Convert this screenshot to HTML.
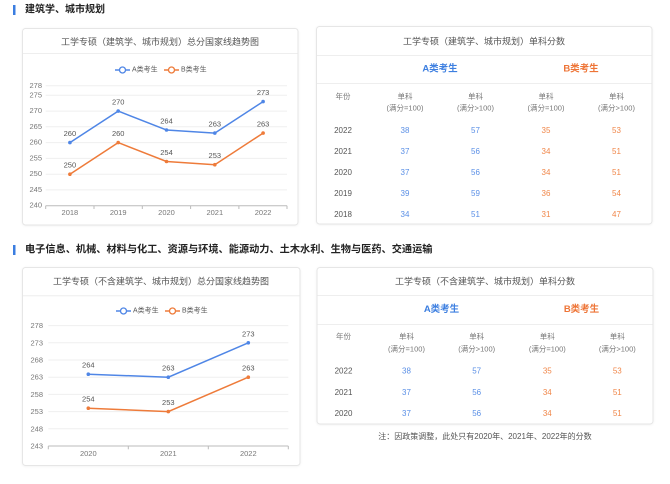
<!DOCTYPE html>
<html><head><meta charset="utf-8">
<style>
html,body{margin:0;padding:0;background:#fff;}
body{width:670px;height:484px;overflow:hidden;}
svg{display:block;font-family:"Liberation Sans","Noto Sans CJK SC",sans-serif;}
</style></head>
<body>
<svg width="670" height="484" viewBox="0 0 670 484" xmlns="http://www.w3.org/2000/svg">
<defs>
<filter id="sh" x="-5%" y="-5%" width="110%" height="110%"><feDropShadow dx="0" dy="0.5" stdDeviation="1" flood-color="#000" flood-opacity="0.06"/></filter>
</defs>
<rect width="670" height="484" fill="#fff"/>

<!-- Headings -->
<rect x="13" y="5" width="2.5" height="10" fill="#3b7de0"/>
<text x="25" y="10" font-size="10px" font-weight="bold" fill="#222" dominant-baseline="central">建筑学、城市规划</text>
<rect x="13" y="245" width="2.5" height="10" fill="#3b7de0"/>
<text x="25" y="250" font-size="10.2px" font-weight="bold" fill="#222" dominant-baseline="central">电子信息、机械、材料与化工、资源与环境、能源动力、土木水利、生物与医药、交通运输</text>

<!-- Cards -->
<rect x="22.5" y="28.5" width="275.5" height="196.5" rx="3" fill="#fff" stroke="#e6e6e6" filter="url(#sh)"/>
<rect x="316.5" y="26.5" width="335.5" height="197.5" rx="3" fill="#fff" stroke="#e6e6e6" filter="url(#sh)"/>
<rect x="22.5" y="267.5" width="277.5" height="198" rx="3" fill="#fff" stroke="#e6e6e6" filter="url(#sh)"/>
<rect x="317" y="267.5" width="336" height="156.5" rx="3" fill="#fff" stroke="#e6e6e6" filter="url(#sh)"/>

<!-- ========== Chart 1 ========== -->
<text x="160" y="42" font-size="9px" fill="#555" text-anchor="middle" dominant-baseline="central">工学专硕（建筑学、城市规划）总分国家线趋势图</text>
<line x1="23" y1="53.5" x2="297.5" y2="53.5" stroke="#eee"/>
<!-- legend -->
<line x1="115" y1="70" x2="130" y2="70" stroke="#4f86e6" stroke-width="1.5"/>
<circle cx="122.5" cy="70" r="3" fill="#fff" stroke="#4f86e6" stroke-width="1.3"/>
<text x="132" y="70" font-size="7px" fill="#555" dominant-baseline="central">A类考生</text>
<line x1="164" y1="70" x2="179" y2="70" stroke="#ee7b3a" stroke-width="1.5"/>
<circle cx="171.5" cy="70" r="3" fill="#fff" stroke="#ee7b3a" stroke-width="1.3"/>
<text x="181" y="70" font-size="7px" fill="#555" dominant-baseline="central">B类考生</text>
<!-- grid -->
<g stroke="#efefef" stroke-width="1">
<line x1="45.7" y1="85.8" x2="287" y2="85.8"/>
<line x1="45.7" y1="95.3" x2="287" y2="95.3"/>
<line x1="45.7" y1="111.1" x2="287" y2="111.1"/>
<line x1="45.7" y1="126.8" x2="287" y2="126.8"/>
<line x1="45.7" y1="142.6" x2="287" y2="142.6"/>
<line x1="45.7" y1="158.4" x2="287" y2="158.4"/>
<line x1="45.7" y1="174.2" x2="287" y2="174.2"/>
<line x1="45.7" y1="189.9" x2="287" y2="189.9"/>
</g>
<line x1="45.7" y1="205.7" x2="287" y2="205.7" stroke="#bbb"/>
<g stroke="#bbb">
<line x1="45.7" y1="205.7" x2="45.7" y2="209"/>
<line x1="94" y1="205.7" x2="94" y2="209"/>
<line x1="142.3" y1="205.7" x2="142.3" y2="209"/>
<line x1="190.6" y1="205.7" x2="190.6" y2="209"/>
<line x1="238.9" y1="205.7" x2="238.9" y2="209"/>
<line x1="287" y1="205.7" x2="287" y2="209"/>
</g>
<g font-size="7.5px" fill="#777" text-anchor="end" dominant-baseline="central">
<text x="42" y="85.3">278</text>
<text x="42" y="94.8">275</text>
<text x="42" y="110.6">270</text>
<text x="42" y="126.3">265</text>
<text x="42" y="142.1">260</text>
<text x="42" y="157.9">255</text>
<text x="42" y="173.7">250</text>
<text x="42" y="189.4">245</text>
<text x="42" y="205.2">240</text>
</g>
<g font-size="7.5px" fill="#777" text-anchor="middle" dominant-baseline="central">
<text x="69.9" y="212.5">2018</text>
<text x="118.2" y="212.5">2019</text>
<text x="166.5" y="212.5">2020</text>
<text x="214.8" y="212.5">2021</text>
<text x="263.1" y="212.5">2022</text>
</g>
<polyline points="69.9,142.6 118.2,111.1 166.5,130 214.8,133.1 263.1,101.6" fill="none" stroke="#4f86e6" stroke-width="1.5"/>
<polyline points="69.9,174.2 118.2,142.6 166.5,161.5 214.8,164.7 263.1,133.1" fill="none" stroke="#ee7b3a" stroke-width="1.5"/>
<g fill="#4f86e6">
<circle cx="69.9" cy="142.6" r="1.8"/><circle cx="118.2" cy="111.1" r="1.8"/><circle cx="166.5" cy="130" r="1.8"/><circle cx="214.8" cy="133.1" r="1.8"/><circle cx="263.1" cy="101.6" r="1.8"/>
</g>
<g fill="#ee7b3a">
<circle cx="69.9" cy="174.2" r="1.8"/><circle cx="118.2" cy="142.6" r="1.8"/><circle cx="166.5" cy="161.5" r="1.8"/><circle cx="214.8" cy="164.7" r="1.8"/><circle cx="263.1" cy="133.1" r="1.8"/>
</g>
<g font-size="7.5px" fill="#555" text-anchor="middle" dominant-baseline="central">
<text x="69.9" y="133.6">260</text>
<text x="118.2" y="102.1">270</text>
<text x="166.5" y="121">264</text>
<text x="214.8" y="124.1">263</text>
<text x="263.1" y="92.6">273</text>
<text x="69.9" y="165.2">250</text>
<text x="118.2" y="133.6">260</text>
<text x="166.5" y="152.5">254</text>
<text x="214.8" y="155.7">253</text>
<text x="263.1" y="124.1">263</text>
</g>

<!-- ========== Table 1 ========== -->
<text x="484" y="41.7" font-size="9px" fill="#555" text-anchor="middle" dominant-baseline="central">工学专硕（建筑学、城市规划）单科分数</text>
<line x1="317" y1="55.5" x2="651.5" y2="55.5" stroke="#eee"/>
<text x="440" y="69" font-size="9.5px" font-weight="bold" fill="#3d7fe0" text-anchor="middle" dominant-baseline="central">A类考生</text>
<text x="581" y="69" font-size="9.5px" font-weight="bold" fill="#ee7436" text-anchor="middle" dominant-baseline="central">B类考生</text>
<line x1="317" y1="83.5" x2="651.5" y2="83.5" stroke="#eee"/>
<g font-size="7.5px" fill="#777" text-anchor="middle" dominant-baseline="central">
<text x="343" y="96.7">年份</text>
<text x="405" y="96.7">单科</text><text x="405" y="108">(满分=100)</text>
<text x="475.5" y="96.7">单科</text><text x="475.5" y="108">(满分&gt;100)</text>
<text x="546" y="96.7">单科</text><text x="546" y="108">(满分=100)</text>
<text x="616.5" y="96.7">单科</text><text x="616.5" y="108">(满分&gt;100)</text>
</g>
<g font-size="8px" fill="#555" text-anchor="middle" dominant-baseline="central">
<text x="343" y="130.7">2022</text>
<text x="343" y="151.7">2021</text>
<text x="343" y="172.7">2020</text>
<text x="343" y="193.7">2019</text>
<text x="343" y="214.3">2018</text>
</g>
<g font-size="8px" fill="#5a8fe6" text-anchor="middle" dominant-baseline="central">
<text x="405" y="130.7">38</text><text x="475.5" y="130.7">57</text>
<text x="405" y="151.7">37</text><text x="475.5" y="151.7">56</text>
<text x="405" y="172.7">37</text><text x="475.5" y="172.7">56</text>
<text x="405" y="193.7">39</text><text x="475.5" y="193.7">59</text>
<text x="405" y="214.3">34</text><text x="475.5" y="214.3">51</text>
</g>
<g font-size="8px" fill="#f0874a" text-anchor="middle" dominant-baseline="central">
<text x="546" y="130.7">35</text><text x="616.5" y="130.7">53</text>
<text x="546" y="151.7">34</text><text x="616.5" y="151.7">51</text>
<text x="546" y="172.7">34</text><text x="616.5" y="172.7">51</text>
<text x="546" y="193.7">36</text><text x="616.5" y="193.7">54</text>
<text x="546" y="214.3">31</text><text x="616.5" y="214.3">47</text>
</g>

<!-- ========== Chart 2 ========== -->
<text x="161" y="281.7" font-size="9px" fill="#555" text-anchor="middle" dominant-baseline="central">工学专硕（不含建筑学、城市规划）总分国家线趋势图</text>
<line x1="23" y1="295.7" x2="299.5" y2="295.7" stroke="#eee"/>
<line x1="116" y1="311" x2="131" y2="311" stroke="#4f86e6" stroke-width="1.5"/>
<circle cx="123.5" cy="311" r="3" fill="#fff" stroke="#4f86e6" stroke-width="1.3"/>
<text x="133" y="311" font-size="7px" fill="#555" dominant-baseline="central">A类考生</text>
<line x1="165" y1="311" x2="180" y2="311" stroke="#ee7b3a" stroke-width="1.5"/>
<circle cx="172.5" cy="311" r="3" fill="#fff" stroke="#ee7b3a" stroke-width="1.3"/>
<text x="182" y="311" font-size="7px" fill="#555" dominant-baseline="central">B类考生</text>
<g stroke="#efefef" stroke-width="1">
<line x1="48.3" y1="325.6" x2="288.3" y2="325.6"/>
<line x1="48.3" y1="342.8" x2="288.3" y2="342.8"/>
<line x1="48.3" y1="360" x2="288.3" y2="360"/>
<line x1="48.3" y1="377.2" x2="288.3" y2="377.2"/>
<line x1="48.3" y1="394.4" x2="288.3" y2="394.4"/>
<line x1="48.3" y1="411.6" x2="288.3" y2="411.6"/>
<line x1="48.3" y1="428.8" x2="288.3" y2="428.8"/>
</g>
<line x1="48.3" y1="446" x2="288.3" y2="446" stroke="#bbb"/>
<g stroke="#bbb">
<line x1="48.3" y1="446" x2="48.3" y2="449.3"/>
<line x1="128.3" y1="446" x2="128.3" y2="449.3"/>
<line x1="208.3" y1="446" x2="208.3" y2="449.3"/>
<line x1="288.3" y1="446" x2="288.3" y2="449.3"/>
</g>
<g font-size="7.5px" fill="#777" text-anchor="end" dominant-baseline="central">
<text x="43" y="325.6">278</text>
<text x="43" y="342.8">273</text>
<text x="43" y="360">268</text>
<text x="43" y="377.2">263</text>
<text x="43" y="394.4">258</text>
<text x="43" y="411.6">253</text>
<text x="43" y="428.8">248</text>
<text x="43" y="446">243</text>
</g>
<g font-size="7.5px" fill="#777" text-anchor="middle" dominant-baseline="central">
<text x="88.3" y="453.3">2020</text>
<text x="168.3" y="453.3">2021</text>
<text x="248.3" y="453.3">2022</text>
</g>
<polyline points="88.3,374.2 168.3,377.2 248.3,342.8" fill="none" stroke="#4f86e6" stroke-width="1.5"/>
<polyline points="88.3,408.2 168.3,411.6 248.3,377.2" fill="none" stroke="#ee7b3a" stroke-width="1.5"/>
<g fill="#4f86e6"><circle cx="88.3" cy="374.2" r="1.8"/><circle cx="168.3" cy="377.2" r="1.8"/><circle cx="248.3" cy="342.8" r="1.8"/></g>
<g fill="#ee7b3a"><circle cx="88.3" cy="408.2" r="1.8"/><circle cx="168.3" cy="411.6" r="1.8"/><circle cx="248.3" cy="377.2" r="1.8"/></g>
<g font-size="7.5px" fill="#555" text-anchor="middle" dominant-baseline="central">
<text x="88.3" y="365.2">264</text>
<text x="168.3" y="368.2">263</text>
<text x="248.3" y="333.8">273</text>
<text x="88.3" y="399.2">254</text>
<text x="168.3" y="402.6">253</text>
<text x="248.3" y="368.2">263</text>
</g>

<!-- ========== Table 2 ========== -->
<text x="485" y="281.7" font-size="9px" fill="#555" text-anchor="middle" dominant-baseline="central">工学专硕（不含建筑学、城市规划）单科分数</text>
<line x1="317.5" y1="295.5" x2="652.5" y2="295.5" stroke="#eee"/>
<text x="441.5" y="309.3" font-size="9.5px" font-weight="bold" fill="#3d7fe0" text-anchor="middle" dominant-baseline="central">A类考生</text>
<text x="581.5" y="309.3" font-size="9.5px" font-weight="bold" fill="#ee7436" text-anchor="middle" dominant-baseline="central">B类考生</text>
<line x1="317.5" y1="324.5" x2="652.5" y2="324.5" stroke="#eee"/>
<g font-size="7.5px" fill="#777" text-anchor="middle" dominant-baseline="central">
<text x="343.5" y="336.7">年份</text>
<text x="406.5" y="336.7">单科</text><text x="406.5" y="349">(满分=100)</text>
<text x="476.7" y="336.7">单科</text><text x="476.7" y="349">(满分&gt;100)</text>
<text x="547.3" y="336.7">单科</text><text x="547.3" y="349">(满分=100)</text>
<text x="617.3" y="336.7">单科</text><text x="617.3" y="349">(满分&gt;100)</text>
</g>
<g font-size="8px" fill="#555" text-anchor="middle" dominant-baseline="central">
<text x="343.5" y="371">2022</text>
<text x="343.5" y="392.3">2021</text>
<text x="343.5" y="413.3">2020</text>
</g>
<g font-size="8px" fill="#5a8fe6" text-anchor="middle" dominant-baseline="central">
<text x="406.5" y="371">38</text><text x="476.7" y="371">57</text>
<text x="406.5" y="392.3">37</text><text x="476.7" y="392.3">56</text>
<text x="406.5" y="413.3">37</text><text x="476.7" y="413.3">56</text>
</g>
<g font-size="8px" fill="#f0874a" text-anchor="middle" dominant-baseline="central">
<text x="547.3" y="371">35</text><text x="617.3" y="371">53</text>
<text x="547.3" y="392.3">34</text><text x="617.3" y="392.3">51</text>
<text x="547.3" y="413.3">34</text><text x="617.3" y="413.3">51</text>
</g>
<text x="485" y="436.7" font-size="8px" fill="#555" text-anchor="middle" dominant-baseline="central">注：因政策调整，此处只有2020年、2021年、2022年的分数</text>
</svg>
</body></html>
